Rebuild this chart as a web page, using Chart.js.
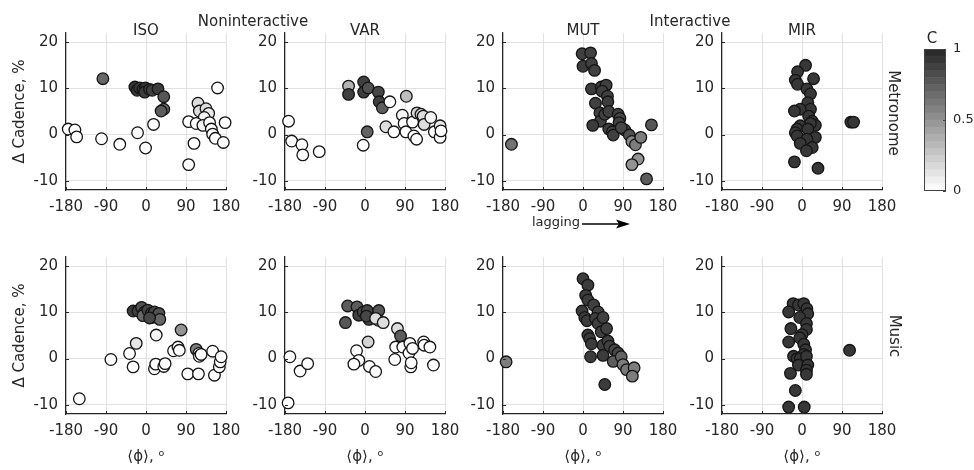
<!DOCTYPE html>
<html><head><meta charset="utf-8">
<script src="https://cdn.jsdelivr.net/npm/chart.js@4.4.0/dist/chart.umd.min.js"></script>
<style>
html,body{margin:0;padding:0;background:#fff;overflow:hidden;width:974px;height:470px;position:relative;}
canvas{position:absolute;}
.t{position:absolute;font-family:'DejaVu Sans';font-size:15px;color:#262626;white-space:nowrap;transform:translate(-50%,-50%);line-height:1;}
</style></head><body>
<script>
// ---------- data ----------
const xTicks = [-180, -90, 0, 90, 180];
const yTicks = [-10, 0, 10, 20];
const cbTicks = [0, 0.5, 1];
const panelTitles = ['ISO', 'VAR', 'MUT', 'MIR'];
const groupTitles = ['Noninteractive', 'Interactive'];
const rowLabels = ['Metronome', 'Music'];
const xLabel = '⟨ϕ⟩, ᵒ';
const yLabel = 'Δ Cadence, %';

// [phase (deg), delta cadence (%), C]
const isoMetronome = [
  [-97,12.1,0.7],[-25,10.3,0.92],[-20,9.6,0.92],[-14,10.1,0.9],[-7,9.8,0.92],[-1,10.1,0.92],[-3,9.2,0.9],
  [8,9.8,0.9],[14,9.6,0.88],[27,9.9,0.9],[40,8.2,0.78],[40,5.5,0.72],[34,5.1,0.75],
  [17,2.2,0],[-19,0.4,0],[-1,-2.9,0],[-59,-2.1,0],[-100,-0.9,0],[-175,1.2,0],[-160,1.0,0],[-156,-0.5,0],
  [161,10.1,0],[117,6.8,0.15],[120,5.1,0.15],[135,5.6,0.15],[141,4.6,0.1],[131,3.7,0.05],[96,2.8,0],
  [113,2.4,0],[128,2.0,0.05],[143,2.6,0],[147,1.2,0],[150,0.1,0],[156,-0.8,0],[174,-1.7,0],[178,2.6,0],
  [108,-1.9,0],[96,-6.5,0]
];
const varMetronome = [
  [-172,2.9,0],[-165,-1.4,0],[-142,-2.2,0],[-140,-4.4,0],[-103,-3.7,0],
  [-37,10.5,0.35],[-37,8.7,0.88],[-3,11.4,0.88],[-3,9.2,0.9],[7,10.1,0.8],[30,9.2,0.85],[32,7.1,0.88],[39,5.8,0.75],
  [56,7.1,0],[5,0.6,0.72],[-4,-2.3,0],[47,1.7,0.15],[65,0.6,0],
  [93,8.3,0.3],[84,4.2,0.05],[88,2.4,0],[92,0.6,0],[107,2.7,0],[110,-0.3,0],[116,-1.0,0],
  [117,4.7,0.2],[126,4.4,0.2],[131,4.0,0.15],[133,2.2,0.15],[148,3.7,0.05],[156,0.6,0],[169,1.9,0.1],[169,-0.6,0],[171,0.8,0]
];
const mutMetronome = [
  [-161,-2.1,0.65],
  [-2,17.5,0.88],[17,17.7,0.88],[0,14.8,0.9],[19,15.4,0.88],[26,13.9,0.88],
  [19,9.9,0.9],[41,10.3,0.9],[52,10.7,0.88],[43,9.4,0.88],[55,8.3,0.88],[56,7.1,0.9],[28,6.8,0.88],[38,4.7,0.88],
  [39,2.9,0.88],[22,2.0,0.9],[49,4.4,0.88],[58,5.0,0.88],
  [79,4.4,0.88],[83,3.5,0.85],[81,2.6,0.88],[58,1.2,0.88],[66,0.6,0.85],[68,-0.1,0.88],[94,1.0,0.85],[86,1.5,0.85],
  [104,-0.1,0.8],[110,-1.5,0.55],[118,-2.2,0.6],[130,-0.6,0.6],[124,-5.3,0.5],[110,-6.5,0.5],[143,-9.6,0.75],[154,2.1,0.78]
];
const mirMetronome = [
  [8,15.0,0.92],[-10,13.6,0.92],[26,12.1,0.92],[-15,11.8,0.92],[-10,10.9,0.92],[11,9.9,0.92],[19,8.8,0.92],
  [13,6.9,0.92],[19,5.5,0.92],[-4,5.5,0.92],[-17,5.1,0.92],[15,4.0,0.92],[23,2.9,0.92],[30,2.0,0.92],[19,2.4,0.92],
  [-4,1.9,0.92],[-11,1.2,0.92],[13,1.2,0.92],[-15,0.4,0.92],[-11,-0.3,0.92],[30,-0.6,0.92],[11,-1.0,0.92],
  [-4,-1.9,0.92],[23,-2.8,0.92],[10,-3.5,0.92],[-17,-5.9,0.92],[36,-7.3,0.92],[110,2.7,0.92],[116,2.7,0.92]
];
const isoMusic = [
  [-150,-8.7,0],[-79,-0.2,0],[-37,1.1,0],[-29,-1.8,0],[-22,3.3,0.12],[23,5.1,0.05],[19,-2.2,0],[22,-1.2,0],[40,-1.7,0],[43,-1.1,0],
  [-29,10.3,0.9],[-18,10.3,0.88],[-10,11.1,0.8],[-3,10.1,0.88],[-7,9.3,0.7],[4,10.5,0.85],[12,9.8,0.88],[14,8.9,0.85],
  [19,10.1,0.85],[29,9.8,0.8],[31,8.5,0.7],[8,8.8,0.85],
  [62,1.7,0],[72,2.5,0],[75,1.8,0],[79,6.2,0.5],
  [94,-3.3,0],[113,2.0,0.6],[119,1.1,0],[120,0.5,0],[124,0.9,0],[118,-3.3,0],[150,1.6,0],[154,-3.6,0],[165,-1.8,0],[167,-0.7,0],[169,0.4,0]
];
const varMusic = [
  [-169,0.4,0],[-146,-2.7,0],[-129,-1.1,0],[-173,-9.6,0],
  [-39,11.4,0.75],[-44,7.8,0.78],[-18,11.2,0.75],[-14,9.4,0.88],[-4,10.1,0.85],[5,10.4,0.85],[9,8.5,0.85],[3,9.2,0.85],
  [31,10.4,0.78],[30,8.3,0.35],[24,8.7,0.15],[41,7.8,0.15],
  [73,6.5,0.15],[80,4.9,0.75],[69,2.5,0],[67,-0.2,0],[85,2.5,0],[101,3.3,0],[99,1.2,0],[107,2.2,0],[103,-1.8,0],[104,-0.9,0],
  [132,3.6,0],[133,2.9,0],[146,2.5,0],[154,-1.4,0],
  [7,3.6,0.2],[-19,1.7,0],[-14,-0.4,0],[-25,-1.2,0],[10,-1.7,0],[24,-2.8,0]
];
const mutMusic = [
  [-173,-0.7,0.6],
  [0,17.3,0.9],[11,15.9,0.9],[6,13.7,0.9],[11,12.7,0.9],[24,11.6,0.88],[34,10.1,0.88],[-2,10.3,0.9],[4,8.9,0.9],
  [9,8.2,0.9],[28,8.7,0.88],[34,7.6,0.88],[45,8.9,0.88],[41,5.8,0.88],[53,6.5,0.88],[11,5.1,0.9],[15,4.3,0.9],
  [19,3.2,0.9],[17,0.4,0.9],[45,2.9,0.88],[56,3.8,0.88],[60,2.7,0.88],[45,0.7,0.9],[71,1.9,0.85],[79,1.2,0.85],
  [68,-0.6,0.75],[86,0.4,0.72],[90,-1.3,0.6],[98,-2.4,0.62],[115,-2.0,0.6],[111,-3.8,0.6],[49,-5.6,0.9]
];
const mirMusic = [
  [-20,11.9,0.92],[-8,11.6,0.92],[4,11.9,0.92],[11,10.8,0.92],[-30,10.1,0.92],[13,9.7,0.92],[-5,8.9,0.92],
  [10,7.6,0.92],[10,6.3,0.92],[-25,6.5,0.92],[0,5.2,0.92],[-5,4.5,0.92],[-30,3.6,0.92],[4,3.1,0.92],[8,1.9,0.92],
  [4,0.9,0.92],[-19,0.5,0.92],[-11,0,0.92],[-4,0,0.92],[10,0.5,0.92],[-8,-1.4,0.92],[13,-1.4,0.92],[10,-2.5,0.92],
  [10,-3.4,0.92],[-26,-3.2,0.92],[-15,-6.9,0.92],[-30,-10.5,0.92],[5,-10.5,0.92],[107,1.8,0.92]
];
const panels = [[isoMetronome, varMetronome, mutMetronome, mirMetronome],[isoMusic, varMusic, mutMusic, mirMusic]];

// ---------- layout / style ----------
const FONT = 'DejaVu Sans';
const INK = '#262626';
const AX_L = [66, 285, 503, 722], AX_T = [33, 257], AX_W = 160, AX_H = 157;
const PAD_T = 10, PAD_R = 22;
const CB_STEPS = 20;
function grayOf(c){ const g = Math.round(255 - Math.min(Math.max(c,0),1) * (255 - 38)); return `rgb(${g},${g},${g})`; }
function noScalePad(s){ s.paddingTop = 0; s.paddingBottom = 0; s.paddingLeft = 0; s.paddingRight = 0; }

const innerTicks = {
  id: 'innerTicks',
  afterDatasetsDraw(chart){
    const {ctx, chartArea: a, scales: {x, y}} = chart;
    ctx.save(); ctx.strokeStyle = INK; ctx.lineWidth = 1; ctx.beginPath();
    xTicks.forEach(v => { const p = Math.round(x.getPixelForValue(v)) + 0.5; ctx.moveTo(p, a.bottom); ctx.lineTo(p, a.bottom - 3); });
    yTicks.forEach(v => { const p = Math.round(y.getPixelForValue(v)) + 0.5; ctx.moveTo(a.left, p); ctx.lineTo(a.left + 3, p); });
    ctx.stroke(); ctx.restore();
  }
};

function addCanvas(left, top, w, h){
  const cv = document.createElement('canvas');
  cv.width = w; cv.height = h;
  cv.style.left = left + 'px'; cv.style.top = top + 'px';
  cv.style.width = w + 'px'; cv.style.height = h + 'px';
  document.body.appendChild(cv);
  return cv;
}
function addText(txt, x, y, extra){
  const d = document.createElement('div');
  d.className = 't'; d.textContent = txt;
  d.style.left = x + 'px'; d.style.top = y + 'px';
  if (extra) Object.assign(d.style, extra);
  document.body.appendChild(d);
  return d;
}

function makePanel(row, col, pts){
  const yW = col === 0 ? 66 : 48;
  const xH = row === 0 ? 35 : 55;
  const W = yW + AX_W + PAD_R, H = PAD_T + AX_H + xH;
  const cv = addCanvas(AX_L[col] - yW, AX_T[row] - PAD_T, W, H);
  const tickFont = {family: FONT, size: 15};
  new Chart(cv, {
    type: 'scatter',
    data: {datasets: [{
      data: pts.map(p => ({x: p[0], y: p[1]})),
      pointBackgroundColor: pts.map(p => grayOf(p[2])),
      pointBorderColor: '#151515', pointBorderWidth: 1.3, pointRadius: 5.8, pointHoverRadius: 5.8,
      clip: false
    }]},
    options: {
      responsive: false, animation: false, events: [],
      layout: {padding: {top: PAD_T, right: PAD_R, left: 0, bottom: 0}},
      plugins: {legend: {display: false}, tooltip: {enabled: false}},
      scales: {
        x: {
          type: 'linear', min: -180, max: 180,
          afterBuildTicks: s => { s.ticks = xTicks.map(v => ({value: v})); },
          afterFit: s => { s.height = xH; noScalePad(s); },
          grid: {color: '#e2e2e2', drawTicks: false, lineWidth: 1},
          border: {color: INK, width: 1.2},
          ticks: {padding: 8, color: INK, font: tickFont, maxRotation: 0, autoSkip: false, callback: v => String(v)},
          title: {display: row === 1, text: xLabel, color: INK, font: tickFont, padding: {top: 0, bottom: 3}}
        },
        y: {
          type: 'linear', min: -12, max: 22,
          afterBuildTicks: s => { s.ticks = yTicks.map(v => ({value: v})); },
          afterFit: s => { s.width = yW; noScalePad(s); },
          grid: {color: '#e2e2e2', drawTicks: false, lineWidth: 1},
          border: {color: INK, width: 1.2},
          ticks: {padding: 8, color: INK, font: tickFont, autoSkip: false, callback: v => String(v)},
          title: {display: col === 0, text: yLabel, color: INK, font: tickFont, padding: {top: 11, bottom: 0}}
        }
      }
    },
    plugins: [innerTicks]
  });
}

panels.forEach((rowP, r) => rowP.forEach((pts, c) => makePanel(r, c, pts)));

// ---------- colorbar ----------
(function(){
  const cbL = 924, cbT = 49, cbW = 22, cbH = 142, axW = 28, pad = 10;
  const cv = addCanvas(cbL, cbT - pad, cbW + axW, cbH + 2 * pad);
  const ds = [];
  for (let i = 0; i < CB_STEPS; i++) {
    ds.push({data: [1 / CB_STEPS], backgroundColor: grayOf((i + 0.5) / CB_STEPS), borderWidth: 0,
             barPercentage: 1, categoryPercentage: 1, stack: 's'});
  }
  const frame = {
    id: 'frame',
    afterDraw(chart){
      const {ctx, chartArea: a, scales: {y}} = chart;
      ctx.save(); ctx.strokeStyle = '#444'; ctx.lineWidth = 1;
      ctx.strokeRect(Math.round(a.left) + 0.5, Math.round(a.top) + 0.5, Math.round(a.right - a.left) - 1, Math.round(a.bottom - a.top) - 1);
      ctx.beginPath();
      cbTicks.forEach(v => { const p = Math.round(y.getPixelForValue(v)) + 0.5; ctx.moveTo(a.right - 3, p); ctx.lineTo(a.right, p); });
      ctx.stroke(); ctx.restore();
    }
  };
  new Chart(cv, {
    type: 'bar',
    data: {labels: ['C'], datasets: ds},
    options: {
      responsive: false, animation: false, events: [],
      layout: {padding: {top: pad, bottom: pad, left: 0, right: 0}},
      plugins: {legend: {display: false}, tooltip: {enabled: false}},
      scales: {
        x: {display: false, stacked: true},
        y: {
          position: 'right', stacked: true, min: 0, max: 1,
          afterBuildTicks: s => { s.ticks = cbTicks.map(v => ({value: v})); },
          afterFit: s => { s.width = axW; noScalePad(s); },
          grid: {display: false, drawTicks: false}, border: {display: false},
          ticks: {padding: 7, color: INK, font: {family: FONT, size: 13}, callback: v => String(v)}
        }
      }
    },
    plugins: [frame]
  });
  addText('C', 932, 38);
})();

// ---------- text annotations ----------
panelTitles.forEach((t, c) => addText(t, AX_L[c] + AX_W / 2, 30));
addText(groupTitles[0], 253, 21);
addText(groupTitles[1], 690, 21);
addText(rowLabels[0], 893, 113, {transform: 'translate(-50%,-50%) rotate(90deg)'});
addText(rowLabels[1], 894, 336, {transform: 'translate(-50%,-50%) rotate(90deg)'});
addText('lagging', 556, 220.5, {fontSize: '13px'});
(function(){
  const ns = 'http://www.w3.org/2000/svg';
  const svg = document.createElementNS(ns, 'svg');
  svg.setAttribute('width', '60'); svg.setAttribute('height', '16');
  Object.assign(svg.style, {position: 'absolute', left: '578px', top: '216px'});
  const line = document.createElementNS(ns, 'line');
  line.setAttribute('x1', '4'); line.setAttribute('y1', '8'); line.setAttribute('x2', '44'); line.setAttribute('y2', '8');
  line.setAttribute('stroke', '#000'); line.setAttribute('stroke-width', '1.5');
  const head = document.createElementNS(ns, 'polygon');
  head.setAttribute('points', '52,8 38,3.5 41,8 38,12.5');
  head.setAttribute('fill', '#000');
  svg.appendChild(line); svg.appendChild(head);
  document.body.appendChild(svg);
})();
</script>
</body></html>
